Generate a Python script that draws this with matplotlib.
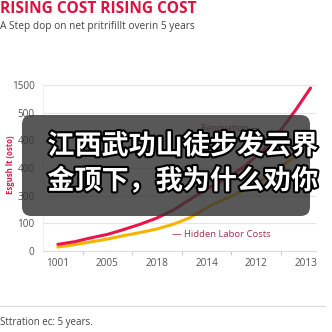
import matplotlib
matplotlib.use("Agg")
import matplotlib.pyplot as plt
from matplotlib.patches import FancyBboxPatch
import matplotlib.patheffects as pe

plt.rcParams["font.family"] = ["Open Sans", "DejaVu Sans"]

# ---- data ----
categories = ["1001", "2005", "2018", "2014", "2012", "2013"]
ytick_labels = ["0", "100", "300", "400", "400", "500", "1500"]
ytick_pos = [0, 250, 500, 750, 1000, 1250, 1500]

renov_x = [0, 0.35, 0.65, 1.0, 1.3, 1.65, 2.0, 2.35, 2.65, 3.0, 3.4, 3.75, 4.15, 4.5, 4.8, 5.1]
renov_y = [60, 85, 117, 150, 190, 240, 298, 375, 461, 560, 655, 760, 910, 1093, 1275, 1473]

labor_x = [0, 0.35, 0.65, 1.0, 1.3, 1.65, 2.0, 2.35, 2.65, 3.1, 3.5, 3.9, 4.25, 4.6, 5.0]
labor_y = [36, 58, 81, 108, 136, 166, 199, 245, 298, 415, 495, 580, 680, 795, 915]

title = "RISING COST RISING COST"
subtitle = "A Step dop on net pritrifillt overin 5 years"
footer = "Sttration ec: 5 years."
ylabel = "Esgush lt (osto)"
overlay_lines = ["江西武功山徒步发云界", "金顶下，我为什么劝你"]

W = H = 332
fig = plt.figure(figsize=(3.32, 3.32), dpi=100)

def fx(px):
    return px / W

def fy(py):
    return 1 - py / H

ax = fig.add_axes([fx(43), fy(251), fx(316) - fx(43), fy(85) - fy(251)])
red = "#e8174a"
yellow = "#f5b400"
ax.plot(renov_x, renov_y, color=red, lw=2.2, solid_capstyle="round", zorder=3)
ax.plot(labor_x, labor_y, color=yellow, lw=2.2, solid_capstyle="round", zorder=2)

ax.set_xlim(-0.3, 5.21)
ax.set_ylim(0, 1500)
ax.set_yticks(ytick_pos)
ax.set_yticklabels(ytick_labels)
ax.set_xticks(range(len(categories)))
ax.set_xticklabels(categories)
ax.set_xticks([i + 0.5 for i in range(len(categories) - 1)], minor=True)
ax.tick_params(axis="x", which="major", length=0, pad=5, labelsize=7.2, labelcolor="#555555")
ax.tick_params(axis="x", which="minor", length=3, color="#cccccc", width=0.8)
ax.tick_params(axis="y", length=0, pad=6, labelsize=7.2, labelcolor="#555555")
ax.grid(axis="y", color="#e6e6e6", lw=0.8)
for s in ["top", "right"]:
    ax.spines[s].set_visible(False)
ax.spines["left"].set_color("#eeeeee")
ax.spines["bottom"].set_color("#dddddd")

ax.text(4.08, 1111, "Renovation —", color="#7a2a40", fontsize=6.5, ha="right", va="center")
ax.text(2.3, 145, "— Hidden Labor Costs", color="#a0304f", fontsize=6.8, ha="left", va="center")

fig.text(fx(11), fy(165), ylabel, color=red, fontsize=5.6, fontweight="bold",
         rotation=90, ha="center", va="center")

fig.text(0, fy(9), title, color="#e0103f", fontsize=11.2, fontweight="bold",
         ha="left", va="center")
fig.text(0, fy(26), subtitle, color="#444444", fontsize=7.3, ha="left", va="center")

fig.add_artist(plt.Line2D([0, fx(325)], [fy(306), fy(306)], color="#dddddd", lw=0.8,
                          transform=fig.transFigure))
fig.text(0, fy(322), footer, color="#444444", fontsize=7, ha="left", va="center")

box = FancyBboxPatch((fx(22), fy(216)), fx(310) - fx(22), fy(115) - fy(216),
                     boxstyle="round,pad=0,rounding_size=0.028",
                     transform=fig.transFigure, facecolor="#333333", alpha=0.82,
                     edgecolor="none", zorder=10)
fig.add_artist(box)
for txt, py in zip(overlay_lines, [146, 181]):
    fig.text(fx(183), fy(py), txt, color="white", fontsize=19.5, fontweight="bold",
             family=["Noto Sans CJK SC", "DejaVu Sans"], ha="center", va="center",
             zorder=11,
             path_effects=[pe.withStroke(linewidth=3, foreground="black")])

fig.savefig("out.png", dpi=100, facecolor="white")
